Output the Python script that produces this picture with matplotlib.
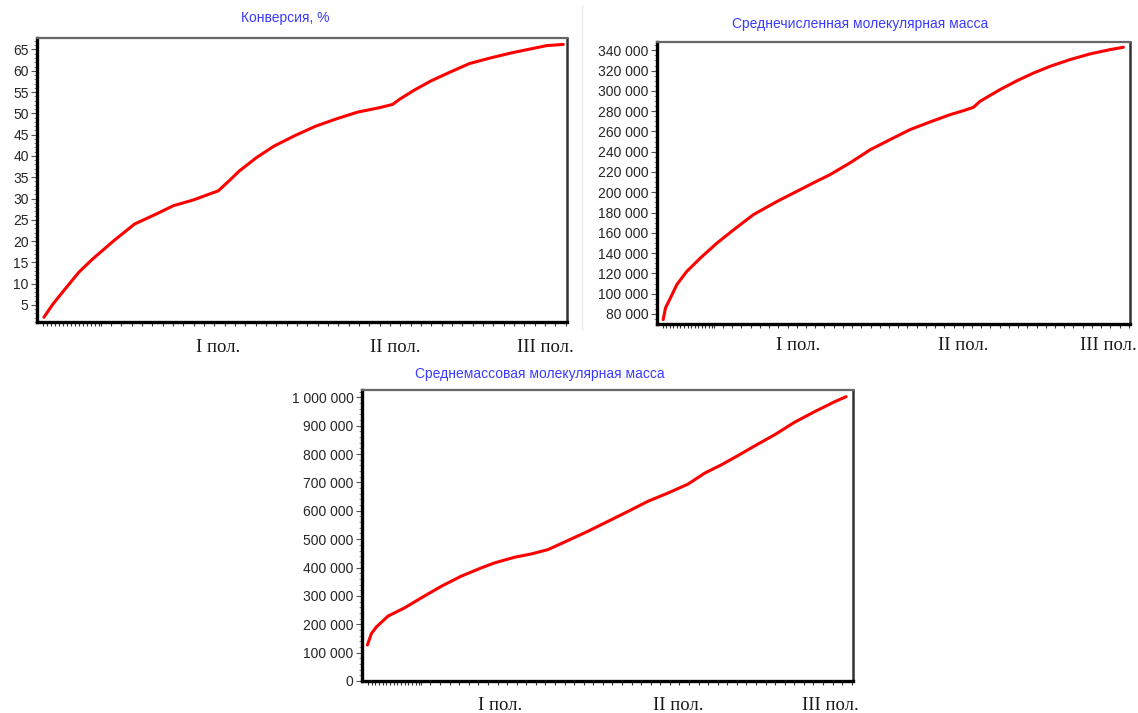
import numpy as np
import matplotlib
matplotlib.use("Agg")
import matplotlib.pyplot as plt
from matplotlib.ticker import FuncFormatter, FixedLocator, MultipleLocator
from matplotlib.lines import Line2D

# время (доля длительности процесса)
t_conv = [0.013, 0.030, 0.053, 0.079, 0.105, 0.145, 0.184, 0.224, 0.257, 0.296, 0.322,
          0.342, 0.362, 0.382, 0.414, 0.447, 0.487, 0.526, 0.566, 0.605, 0.645, 0.671,
          0.684, 0.711, 0.743, 0.776, 0.816, 0.855, 0.895, 0.934, 0.961, 0.993]
conv = [2.1, 5.2, 8.75, 12.7, 15.8, 20.1, 24.0, 26.3, 28.3, 29.7, 30.9,
        31.8, 34.1, 36.5, 39.6, 42.3, 44.8, 47.0, 48.75, 50.3, 51.3, 52.1,
        53.3, 55.4, 57.6, 59.5, 61.7, 63.0, 64.2, 65.2, 65.9, 66.2]

t_mn = [0.013, 0.018, 0.025, 0.042, 0.063, 0.092, 0.127, 0.162, 0.204, 0.254, 0.296,
        0.338, 0.366, 0.408, 0.451, 0.493, 0.535, 0.577, 0.620, 0.648, 0.669, 0.683,
        0.725, 0.761, 0.796, 0.831, 0.873, 0.915, 0.958, 0.986]
mn = [74400, 86000, 92500, 109000, 122000, 135300, 150000, 163000, 178000, 191000, 201000,
      211000, 217400, 229000, 242000, 252000, 261800, 269300, 276600, 280500, 283800, 289700,
      301200, 310000, 317600, 324200, 330800, 336400, 340700, 343000]

t_mw = [0.011, 0.019, 0.029, 0.053, 0.087, 0.121, 0.162, 0.202, 0.243, 0.270, 0.311,
        0.345, 0.379, 0.413, 0.460, 0.501, 0.542, 0.582, 0.623, 0.664, 0.698, 0.732,
        0.766, 0.800, 0.840, 0.881, 0.922, 0.963, 0.986]
mw = [126900, 166700, 190000, 228800, 258100, 293300, 334300, 369500, 398800, 416400, 436300,
      448000, 463300, 490200, 527700, 562800, 598000, 633200, 662500, 694100, 732800, 762100,
      794900, 828900, 867600, 912100, 949600, 984800, 1002300]

stages = ["I пол.", "II пол.", "III пол."]

W, H = 1138, 713
fig = plt.figure(figsize=(W / 100, H / 100), dpi=100)
fig.patch.set_facecolor("white")

SANS = "Liberation Sans"
SERIF = "Liberation Serif"
TITLE_C = "#3a3aff"


def fmt_space(v, pos):
    return f"{int(round(v)):,}".replace(",", " ")


def make_panel(rect_px, t, y, ylim, yticks, yminor, title, title_xy, label_xs, label_y):
    l, r, top, bot = rect_px
    ax = fig.add_axes([l / W, 1 - bot / H, (r - l) / W, (bot - top) / H])
    ax.plot(t, y, color="#ff0000", lw=2.2, solid_capstyle="round", solid_joinstyle="round")
    ax.set_xlim(0, 1)
    ax.set_ylim(*ylim)
    ax.yaxis.set_major_locator(FixedLocator(yticks))
    ax.yaxis.set_minor_locator(MultipleLocator(yminor))
    ax.yaxis.set_major_formatter(FuncFormatter(fmt_space))
    # деления по оси времени: густые в начале, потом реже
    xt = np.concatenate([np.arange(0.012, 0.12, 0.0075), np.arange(0.12, 1.0, 0.0195)])
    ax.xaxis.set_major_locator(FixedLocator(xt))
    ax.set_xticklabels([])
    ax.tick_params(axis="x", length=3, width=0.8, color="#333333")
    ax.tick_params(axis="y", which="major", length=4, width=0.8, color="#555555",
                   labelsize=10, labelcolor="#262626", pad=2)
    ax.tick_params(axis="y", which="minor", length=2, width=0.6, color="#777777")
    for lab in ax.get_yticklabels():
        lab.set_fontfamily(SANS)
    ax.spines["left"].set_linewidth(2.4)
    ax.spines["bottom"].set_linewidth(2.4)
    ax.spines["left"].set_color("black")
    ax.spines["bottom"].set_color("black")
    ax.spines["top"].set_linewidth(1.6)
    ax.spines["top"].set_color("#666666")
    ax.spines["right"].set_linewidth(1.8)
    ax.spines["right"].set_color("#333333")
    fig.text(title_xy[0] / W, 1 - title_xy[1] / H, title, ha="center", va="center",
             fontsize=10, color=TITLE_C, family=SANS)
    for name, x in zip(stages, label_xs):
        fig.text(x / W, 1 - label_y / H, name, ha="center", va="center",
                 fontsize=13.5, color="#1a1a1a", family=SERIF)
    return ax


make_panel((37, 567, 38, 322), t_conv, conv, (1.0, 67.7), list(range(5, 70, 5)), 1,
           "Конверсия, %", (285, 18), (218, 395, 545), 347)

make_panel((657, 1130, 42, 324), t_mn, mn, (70100, 348200), list(range(80000, 360000, 20000)), 5000,
           "Среднечисленная молекулярная масса", (860, 24), (798, 963, 1108), 345)

make_panel((362, 853, 390, 681), t_mw, mw, (0, 1025800), list(range(0, 1100000, 100000)), 20000,
           "Среднемассовая молекулярная масса", (540, 374), (500, 678, 830), 706)

# тонкая разделительная линия между верхними графиками
fig.add_artist(Line2D([582 / W, 582 / W], [1 - 5 / H, 1 - 330 / H], color="#ececec", lw=1))

fig.savefig("out.png", dpi=100, facecolor="white")
